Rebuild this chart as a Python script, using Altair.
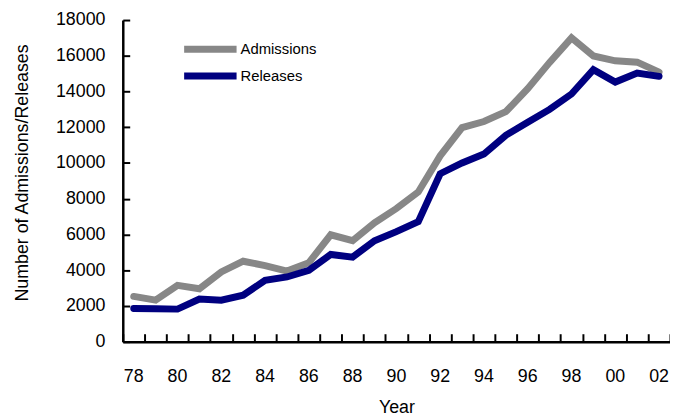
import altair as alt
import pandas as pd

years = ["78", "79", "80", "81", "82", "83", "84", "85", "86", "87", "88", "89",
         "90", "91", "92", "93", "94", "95", "96", "97", "98", "99", "00", "01", "02"]
admissions = [2530, 2320, 3150, 2960, 3900, 4500, 4260, 3950, 4420, 5980,
              5650, 6650, 7450, 8380, 10400, 11980, 12320, 12870, 14160, 15630,
              17000, 15990, 15720, 15640, 15080]
releases = [1860, 1840, 1820, 2380, 2320, 2600, 3430, 3620, 3990, 4880,
            4730, 5650, 6160, 6720, 9400, 10000, 10500, 11550, 12280, 13000,
            13860, 15220, 14530, 15030, 14850]
series = ["Admissions", "Releases"]
colors = ["#878787", "#000080"]
y_ticks = list(range(0, 18001, 2000))

rows = []
for i, yr in enumerate(years):
    rows.append({"year": yr, "order": i, "series": series[0], "value": admissions[i]})
    rows.append({"year": yr, "order": i, "series": series[1], "value": releases[i]})
df = pd.DataFrame(rows)

W, H = 553, 325
xscale = alt.Scale(type="band", paddingInner=0, paddingOuter=0)
yscale = alt.Scale(domain=[0, 18000], nice=False)

lines = alt.Chart(df).mark_line(strokeWidth=7, strokeCap="round", strokeJoin="miter").encode(
    x=alt.X("year:O", sort=years, scale=xscale,
            axis=alt.Axis(title="Year", labelAngle=0, ticks=False, orient="bottom",
                          labelExpr="toNumber(datum.value) % 2 == 0 ? datum.label : ''",
                          labelPadding=26, titlePadding=14)),
    y=alt.Y("value:Q", scale=yscale,
            axis=alt.Axis(title="Number of Admissions/Releases", values=y_ticks, format="d",
                          ticks=False, orient="left", labelPadding=18, titlePadding=24,
                          grid=False, titleY=154)),
    color=alt.Color("series:N", scale=alt.Scale(domain=series, range=colors),
                    legend=alt.Legend(orient="none", legendX=78, legendY=19, title=None,
                                      symbolType="M-4,0H4", symbolSize=175.5, symbolStrokeWidth=7,
                                      labelFont="Liberation Sans", labelFontSize=15,
                                      labelColor="black", rowPadding=-2, padding=0,
                                      labelOffset=20)),
    order=alt.Order("order:Q"),
)

# inward tick marks: tick-only axes on the opposite sides, moved onto the plot's bottom/left edges
tick_layer = alt.Chart(df).mark_point(opacity=0).encode(
    x=alt.X("year:O", sort=years, scale=xscale,
            axis=alt.Axis(title=None, labels=False, domain=False, orient="top",
                          tickBand="extent", tickSize=8, offset=-H)),
    y=alt.Y("value:Q", scale=yscale,
            axis=alt.Axis(title=None, labels=False, domain=False, orient="right",
                          values=y_ticks, tickSize=7, offset=-W, grid=False)),
)

chart = alt.layer(lines, tick_layer).resolve_axis(x="independent", y="independent").properties(
    width=W, height=H,
    autosize=alt.AutoSizeParams(type="none"),
    padding={"left": 116, "top": 10, "right": 0, "bottom": 76},
    background="white",
).configure_view(stroke=None).configure_axis(
    labelFont="Liberation Sans", labelFontSize=18, labelColor="black",
    titleFont="Liberation Sans", titleFontSize=18, titleFontWeight="normal", titleColor="black",
    domainColor="black", domainWidth=2.5, tickColor="black", tickWidth=2,
)

chart.save("out.html", embed_options={"renderer": "svg", "actions": False})
